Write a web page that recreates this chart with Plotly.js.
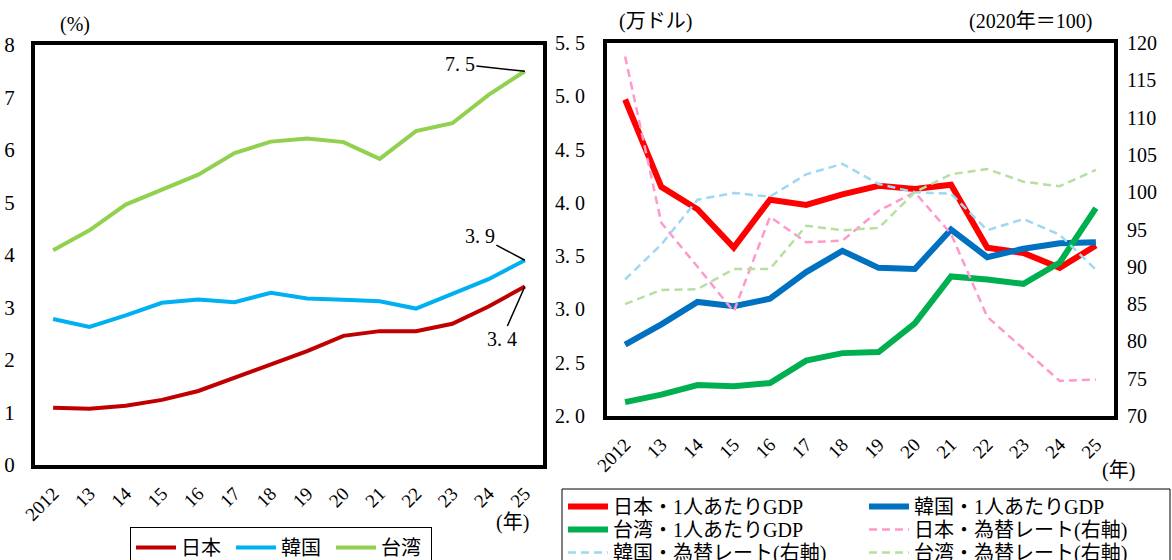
<!DOCTYPE html>
<html>
<head>
<meta charset="utf-8">
<script src="https://cdn.plot.ly/plotly-3.0.1.min.js"></script>
<style>
  html, body { margin: 0; padding: 0; background: #fff; }
  #chart { width: 1172px; height: 560px; }
</style>
</head>
<body>
<div id="chart"></div>
<script>
// Years shown on both panels
const years = ['2012', '13', '14', '15', '16', '17', '18', '19', '20', '21', '22', '23', '24', '25'];

// Left panel (%)
const japanShare  = [1.09, 1.07, 1.13, 1.24, 1.41, 1.66, 1.91, 2.17, 2.46, 2.55, 2.55, 2.69, 3.02, 3.4];
const koreaShare  = [2.78, 2.63, 2.85, 3.09, 3.15, 3.10, 3.28, 3.17, 3.15, 3.12, 2.98, 3.25, 3.54, 3.9];
const taiwanShare = [4.09, 4.47, 4.96, 5.25, 5.53, 5.94, 6.16, 6.22, 6.15, 5.83, 6.36, 6.51, 7.05, 7.5];

// Right panel: GDP per capita (10,000 USD)
const japanGdp  = [4.97, 4.15, 3.94, 3.58, 4.03, 3.98, 4.08, 4.16, 4.13, 4.17, 3.58, 3.53, 3.39, 3.60];
const koreaGdp  = [2.67, 2.86, 3.07, 3.03, 3.10, 3.35, 3.55, 3.39, 3.38, 3.75, 3.49, 3.57, 3.62, 3.63];
const taiwanGdp = [2.13, 2.20, 2.29, 2.28, 2.31, 2.52, 2.59, 2.60, 2.87, 3.31, 3.28, 3.24, 3.44, 3.95];

// Right panel: exchange rate index (2020 = 100, right axis)
const japanFx  = [118.2, 95.9, 90.0, 84.0, 96.7, 93.3, 93.5, 97.5, 100, 94.4, 83.3, 79.0, 74.7, 74.9];
const koreaFx  = [88.3, 93.0, 99.0, 99.9, 99.4, 102.4, 103.8, 101.1, 100, 99.8, 94.9, 96.4, 94.3, 89.6];
const taiwanFx = [85.0, 86.9, 87.0, 89.7, 89.7, 95.5, 94.9, 95.2, 100, 102.4, 103.1, 101.4, 100.8, 103.0];

const FONT = 'Liberation Serif, "Noto Sans CJK JP", serif';
const W = 1172, H = 560;
const px = v => v / W;
const py = v => 1 - v / H;

const fmt1 = v => v.toFixed(1).replace('.', '. ');

const line = (y, name, color, width, extra) => Object.assign({
  type: 'scatter', mode: 'lines', x: years, y: y, name: name,
  line: { color: color, width: width }, hoverinfo: 'skip'
}, extra || {});

// Right-panel legend: a 2-column grid, one small legend per cell inside a shared frame
const traces = [
  line(japanShare,  '日本', '#C00000', 4, { xaxis: 'x', yaxis: 'y', legend: 'legend' }),
  line(koreaShare,  '韓国', '#00B0F0', 4, { xaxis: 'x', yaxis: 'y', legend: 'legend' }),
  line(taiwanShare, '台湾', '#92D050', 4, { xaxis: 'x', yaxis: 'y', legend: 'legend' }),

  line(japanGdp,  '日本・1人あたりGDP', '#FF0000', 6, { xaxis: 'x2', yaxis: 'y2', legend: 'legend2' }),
  line(koreaGdp,  '韓国・1人あたりGDP', '#0070C0', 6, { xaxis: 'x2', yaxis: 'y2', legend: 'legend3' }),
  line(taiwanGdp, '台湾・1人あたりGDP', '#00B050', 6, { xaxis: 'x2', yaxis: 'y2', legend: 'legend4' }),
  line(japanFx,  '日本・為替レート(右軸)', '#FF99CC', 2.5, { xaxis: 'x2', yaxis: 'y3', legend: 'legend5' }),
  line(koreaFx,  '韓国・為替レート(右軸)', '#9ED8F2', 2.5, { xaxis: 'x2', yaxis: 'y3', legend: 'legend6' }),
  line(taiwanFx, '台湾・為替レート(右軸)', '#B5E0A0', 2.5, { xaxis: 'x2', yaxis: 'y3', legend: 'legend7' })
];
traces.slice(6).forEach(t => { t.line.dash = '8px,5px'; });

const frame = { showline: true, mirror: true, linecolor: '#000', linewidth: 4,
                showgrid: false, zeroline: false, ticks: '', automargin: false };
const xcat = Object.assign({}, frame, {
  type: 'category', range: [-0.5, years.length - 0.5], tickangle: -45,
  tickfont: { family: FONT, size: 19, color: '#000' }, ticklabelstandoff: 6
});

const last = years.length - 1;
const labelFont = { family: FONT, size: 20, color: '#000' };
const note = (val, ax, ay) => ({
  xref: 'x', yref: 'y', x: last, y: val, text: fmt1(val),
  showarrow: true, arrowhead: 0, arrowwidth: 1.5, arrowcolor: '#000',
  ax: ax, ay: ay, font: labelFont
});
const caption = (text, x, y, anchor) => ({
  xref: 'paper', yref: 'paper', x: px(x), y: py(y), text: text,
  showarrow: false, xanchor: anchor || 'center', yanchor: 'middle', font: labelFont
});

const cell = (x, y) => ({
  orientation: 'v', x: px(x), y: py(y), xanchor: 'left', yanchor: 'top',
  borderwidth: 0, bgcolor: 'rgba(0,0,0,0)',
  font: { family: FONT, size: 20, color: '#000' }, itemwidth: 40, tracegroupgap: 0
});
const colA = 563, colB = 864;
const rowTops = [487, 510, 533];

const layout = {
  width: W, height: H,
  margin: { l: 0, r: 0, t: 0, b: 0, pad: 0, autoexpand: false },
  paper_bgcolor: '#fff', plot_bgcolor: '#fff',
  font: { family: FONT, color: '#000' },
  xaxis: Object.assign({}, xcat, { domain: [px(35), px(543)], anchor: 'y' }),
  yaxis: Object.assign({}, frame, {
    domain: [py(465), py(45)], anchor: 'x', range: [0, 8], dtick: 1,
    tickfont: { family: FONT, size: 21, color: '#000' }, ticklabelstandoff: 12
  }),
  xaxis2: Object.assign({}, xcat, { domain: [px(607), px(1114)], anchor: 'y2' }),
  yaxis2: Object.assign({}, frame, {
    domain: [py(416), py(43)], anchor: 'x2', range: [2.0, 5.5],
    tickvals: [2.0, 2.5, 3.0, 3.5, 4.0, 4.5, 5.0, 5.5],
    ticktext: [2.0, 2.5, 3.0, 3.5, 4.0, 4.5, 5.0, 5.5].map(fmt1),
    tickfont: { family: FONT, size: 20, color: '#000' }, ticklabelstandoff: 14
  }),
  yaxis3: {
    overlaying: 'y2', side: 'right', anchor: 'x2', range: [70, 120], dtick: 5,
    showline: false, showgrid: false, zeroline: false, ticks: '', automargin: false,
    tickfont: { family: FONT, size: 20, color: '#000' }, ticklabelstandoff: 12
  },
  showlegend: true,
  legend: {
    orientation: 'h', x: px(130), y: py(527), xanchor: 'left', yanchor: 'top',
    bordercolor: '#000', borderwidth: 1, bgcolor: '#fff',
    font: { family: FONT, size: 20, color: '#000' }, entrywidth: 45, itemwidth: 40,
    tracegroupgap: 0
  },
  legend2: cell(colA, rowTops[0]),
  legend3: cell(colB, rowTops[0]),
  legend4: cell(colA, rowTops[1]),
  legend5: cell(colB, rowTops[1]),
  legend6: cell(colA, rowTops[2]),
  legend7: cell(colB, rowTops[2]),
  shapes: [
    { type: 'rect', xref: 'paper', yref: 'paper', layer: 'below',
      x0: px(562), x1: px(1170), y0: py(580), y1: py(489),
      line: { color: '#000', width: 1 }, fillcolor: '#fff' }
  ],
  annotations: [
    note(taiwanShare[last], -65, -7),
    note(koreaShare[last], -45, -24),
    note(japanShare[last], -23, 52),
    caption('(%)', 75, 25),
    caption('(年)', 512, 522),
    caption('(万ドル)', 655, 22),
    caption('(2020年＝100)', 1030, 22),
    caption('(年)', 1118, 470)
  ]
};

Plotly.newPlot('chart', traces, layout, { displayModeBar: false, staticPlot: true });
</script>
</body>
</html>
